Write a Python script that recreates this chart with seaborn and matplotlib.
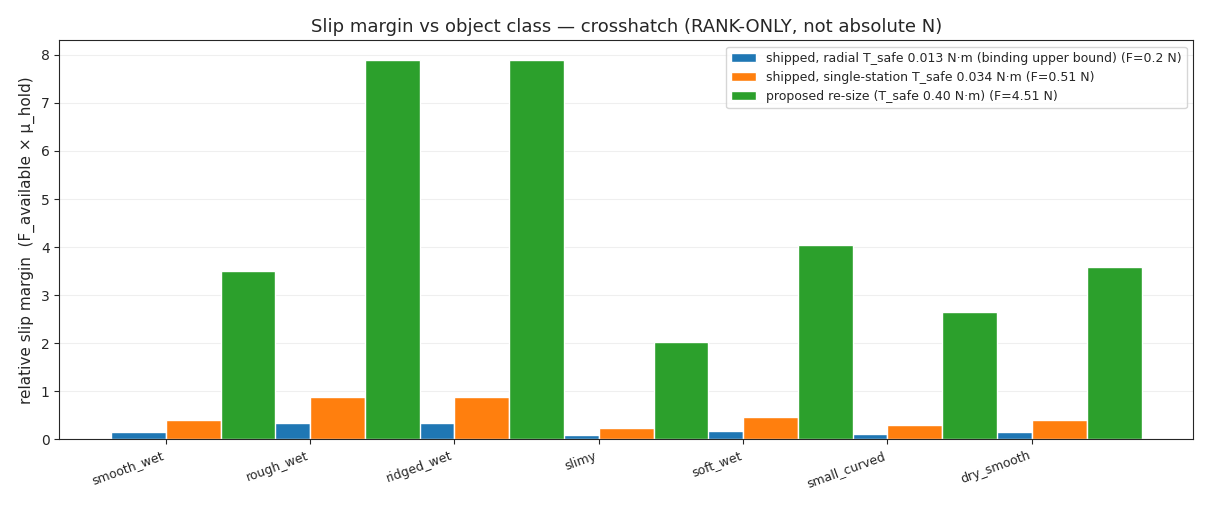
import matplotlib.pyplot as plt
import seaborn as sns
import numpy as np

sns.set_style("ticks")
plt.rcParams['font.family'] = ['DejaVu Sans']

clases = ["smooth_wet", "rough_wet", "ridged_wet", "slimy", "soft_wet", "small_curved", "dry_smooth"]
radial = [0.155, 0.35, 0.35, 0.09, 0.18, 0.118, 0.16]
single = [0.40, 0.89, 0.89, 0.23, 0.46, 0.30, 0.41]
propuesto = [3.50, 7.90, 7.90, 2.03, 4.05, 2.65, 3.58]
etiquetas = [
    "shipped, radial T_safe 0.013 N·m (binding upper bound) (F=0.2 N)",
    "shipped, single-station T_safe 0.034 N·m (F=0.51 N)",
    "proposed re-size (T_safe 0.40 N·m) (F=4.51 N)",
]

colores = sns.color_palette("tab10", 3)
x = np.arange(len(clases))
w = 0.38

fig, ax = plt.subplots(figsize=(12.1, 5.05), dpi=100)
for i, (serie, lab) in enumerate(zip([radial, single, propuesto], etiquetas)):
    ax.bar(x + (i - 0.5) * w, serie, width=w, color=colores[i], label=lab)

ax.set_xticks(x)
ax.set_xticklabels(clases, rotation=20, ha="right", fontsize=9)
ax.set_ylabel("relative slip margin  (F_available × µ_hold)", fontsize=11)
ax.set_title("Slip margin vs object class — crosshatch (RANK-ONLY, not absolute N)", fontsize=13)
ax.set_ylim(0, 8.3)
ax.grid(axis="y", alpha=0.3)
ax.set_axisbelow(True)
ax.legend(loc="upper right", fontsize=9)
plt.subplots_adjust(left=0.049, right=0.986, top=0.92, bottom=0.13)
plt.savefig("out.png")
plt.close()
